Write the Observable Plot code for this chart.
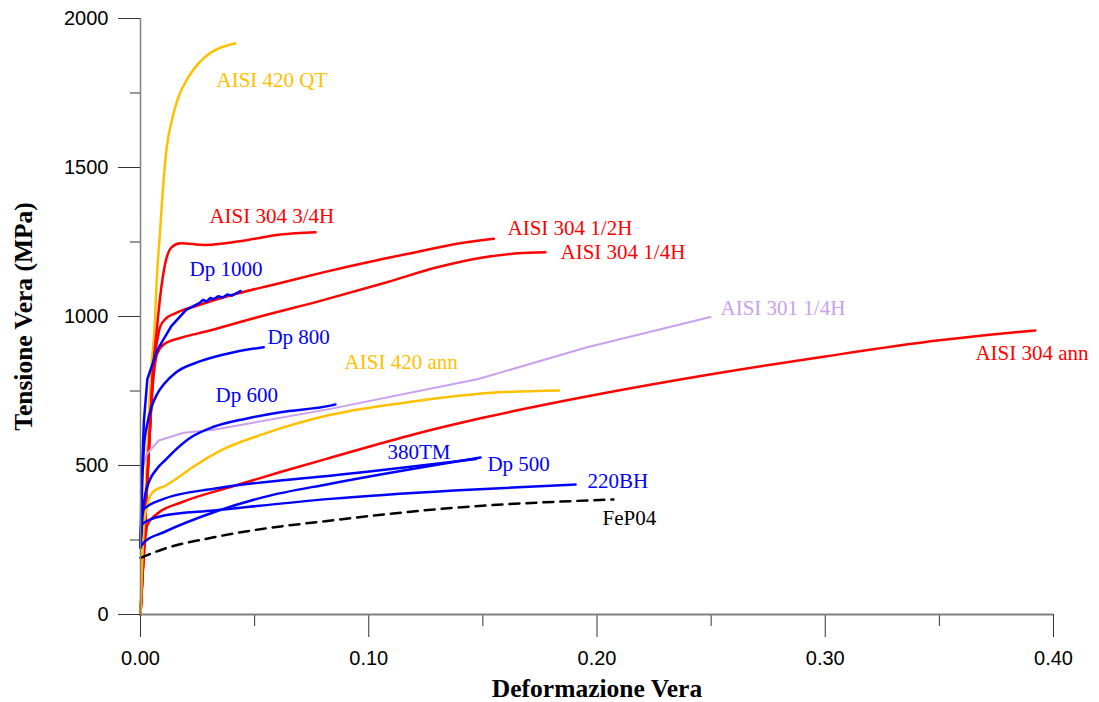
<!DOCTYPE html>
<html>
<head>
<meta charset="utf-8">
<script src="https://cdn.jsdelivr.net/npm/d3@7"></script>
<script src="https://cdn.jsdelivr.net/npm/@observablehq/plot@0.6"></script>
<style>
  html, body { margin: 0; padding: 0; background: #fff; }
  #chart svg { display: block; }
</style>
</head>
<body>
<div id="chart"></div>
<script>
// ---- Data: [true strain, true stress (MPa)] ----
const aisi420QT = [[0,0],[0.002,350],[0.0035,650],[0.005,852],[0.0061,953],[0.0071,1121],[0.0086,1289],[0.0101,1456],[0.0115,1568],[0.0137,1658],[0.0166,1736],[0.021,1803],[0.0283,1871],[0.0415,1916]];
const aisi304_34H = [[0,0],[0.002,300],[0.004,600],[0.0057,842],[0.0071,953],[0.0086,1065],[0.0108,1177],[0.0137,1233],[0.0175,1246],[0.0283,1240],[0.047,1257],[0.0613,1275],[0.0767,1283]];
const aisi304_12H = [[0,0],[0.002,300],[0.004,600],[0.0057,842],[0.0071,910],[0.0086,965],[0.011,992],[0.015,1010],[0.025,1037],[0.04,1072],[0.06,1110],[0.08,1148],[0.1,1183],[0.12,1215],[0.14,1246],[0.1548,1261]];
const aisi304_14H = [[0,0],[0.002,300],[0.004,600],[0.0055,780],[0.0073,875],[0.0105,908],[0.0175,928],[0.03,952],[0.05,995],[0.08,1055],[0.108,1115],[0.13,1165],[0.15,1198],[0.165,1212],[0.1774,1216]];
const aisi304ann = [[0,0],[0.0015,200],[0.003,300],[0.0073,338],[0.0175,375],[0.0394,428],[0.0613,478],[0.0832,526],[0.12,605],[0.15,660],[0.2,738],[0.25,806],[0.3,866],[0.35,920],[0.38,945],[0.392,953]];
const aisi301_14H = [[0.0013,500],[0.0029,540],[0.008,584],[0.0189,610],[0.0321,620],[0.0832,690],[0.148,790],[0.1957,897],[0.2497,998]];
const aisi420ann = [[0,0],[0.0015,300],[0.0031,371],[0.0053,410],[0.0111,433],[0.0175,465],[0.0228,494],[0.035,550],[0.054,606],[0.0832,670],[0.1227,718],[0.152,743],[0.1833,752]];
const fep04 = [[0,190],[0.0102,220],[0.0321,259],[0.054,288],[0.0774,310],[0.1373,358],[0.2072,386]];
const dp1000 = [[0,225],[0.0005,450],[0.0015,650],[0.003,790],[0.0075,890],[0.0135,968],[0.02,1022],[0.024,1038],[0.026,1046],[0.0275,1056],[0.029,1050],[0.0305,1062],[0.032,1058],[0.034,1068],[0.036,1064],[0.038,1074],[0.040,1070],[0.0438,1085]];
const dp800 = [[0,225],[0.0008,450],[0.0016,570],[0.003,640],[0.005,700],[0.0073,740],[0.0105,775],[0.0155,812],[0.0263,850],[0.0409,880],[0.054,897]];
const dp600 = [[0,225],[0.001,340],[0.002,400],[0.004,450],[0.0073,490],[0.0111,520],[0.015,550],[0.0212,590],[0.0321,630],[0.0467,658],[0.0613,679],[0.0832,701],[0.0854,705]];
const dp500 = [[0,225],[0.0016,243],[0.0102,276],[0.0321,343],[0.054,394],[0.0832,439],[0.149,527]];
const tm380 = [[0,240],[0.0008,349],[0.0102,388],[0.0321,422],[0.054,444],[0.0832,466],[0.147,522]];
const bh220 = [[0,240],[0.0008,304],[0.0102,332],[0.0321,349],[0.0832,388],[0.1373,416],[0.1906,436]];

// Series names and label anchors (data units)
const seriesNames = ["AISI 420 QT","AISI 304 3/4H","AISI 304 1/2H","AISI 304 1/4H","AISI 304 ann","AISI 301 1/4H","AISI 420 ann","FeP04","Dp 1000","Dp 800","Dp 600","Dp 500","380TM","220BH"];
const seriesData = [aisi420QT, aisi304_34H, aisi304_12H, aisi304_14H, aisi304ann, aisi301_14H, aisi420ann, fep04, dp1000, dp800, dp600, dp500, tm380, bh220];
const labelX = [0.0333,0.0302,0.1608,0.184,0.3658,0.2541,0.0894,0.2024,0.0215,0.0556,0.0329,0.152,0.1082,0.1958];
const labelY = [1792,1336,1295,1215,876,1027,846,322,1158,930,735,503,544,446];

// Axis ticks
const xMajor = [0, 0.1, 0.2, 0.3, 0.4];
const xMinor = [0.05, 0.15, 0.25, 0.35];
const yMajor = [0, 500, 1000, 1500, 2000];
const yMinor = [250, 750, 1250, 1750];

// Styles
const RED = "#ff0000", BLUE = "#0000ff", GOLD = "#ffc000", LAV = "#c9a0f0", BLACK = "#000000";
const colorOf = {
  "AISI 420 QT": GOLD, "AISI 304 3/4H": RED, "AISI 304 1/2H": RED, "AISI 304 1/4H": RED,
  "AISI 304 ann": RED, "AISI 301 1/4H": LAV, "AISI 420 ann": GOLD, "FeP04": BLACK,
  "Dp 1000": BLUE, "Dp 800": BLUE, "Dp 600": BLUE, "Dp 500": BLUE, "380TM": BLUE, "220BH": BLUE
};

const labels = seriesNames.map((n, i) => ({name: n, x: labelX[i], y: labelY[i]}));

const lineMarks = seriesNames.map((n, i) => Plot.line(seriesData[i], {
  x: d => d[0], y: d => d[1],
  stroke: colorOf[n],
  strokeWidth: n === "AISI 301 1/4H" ? 2 : 2.5,
  strokeDasharray: n === "FeP04" ? "10,7" : null,
  curve: (n === "AISI 301 1/4H" || n === "Dp 1000") ? "linear" : "monotone-x"
}));

const chart = Plot.plot({
  width: 1099,
  height: 702,
  marginLeft: 140,
  marginRight: 46,
  marginTop: 18,
  marginBottom: 88,
  style: {background: "#fff", overflow: "visible"},
  x: {domain: [0, 0.4]},
  y: {domain: [0, 2000]},
  marks: [
    ...lineMarks,
    Plot.text(labels, {
      x: "x", y: "y", text: "name",
      fill: d => colorOf[d.name],
      textAnchor: "start",
      fontFamily: "Liberation Serif, Times New Roman, serif",
      fontSize: 21
    }),
    Plot.axisX(xMajor, {tickSize: 23, tickPadding: 13, tickFormat: d3.format(".2f"),
      fontSize: 20, fontFamily: "Liberation Sans, Arial, sans-serif", stroke: "#333", fill: "#000", label: null}),
    Plot.axisX(xMinor, {tickSize: 12, text: null, stroke: "#333", label: null}),
    Plot.axisY(yMajor, {tickSize: 22, tickPadding: 10, tickFormat: d3.format("d"),
      fontSize: 20, fontFamily: "Liberation Sans, Arial, sans-serif", stroke: "#333", fill: "#000", label: null}),
    Plot.axisY(yMinor, {tickSize: 10, text: null, stroke: "#333", label: null}),
    Plot.ruleY([0], {stroke: "#808080", strokeWidth: 2}),
    Plot.ruleX([0], {stroke: "#808080", strokeWidth: 1.5}),
    Plot.text(["Deformazione Vera"], {
      frameAnchor: "bottom", dy: 74, text: d => d, textAnchor: "middle", lineAnchor: "middle",
      fontFamily: "Liberation Serif, Times New Roman, serif", fontWeight: "bold", fontSize: 25.5, fill: "#000"
    }),
    Plot.text(["Tensione Vera (MPa)"], {
      frameAnchor: "left", dx: -117, rotate: -90, text: d => d, textAnchor: "middle", lineAnchor: "middle",
      fontFamily: "Liberation Serif, Times New Roman, serif", fontWeight: "bold", fontSize: 25.5, fill: "#000"
    })
  ]
});
document.getElementById("chart").appendChild(chart);
</script>
</body>
</html>
